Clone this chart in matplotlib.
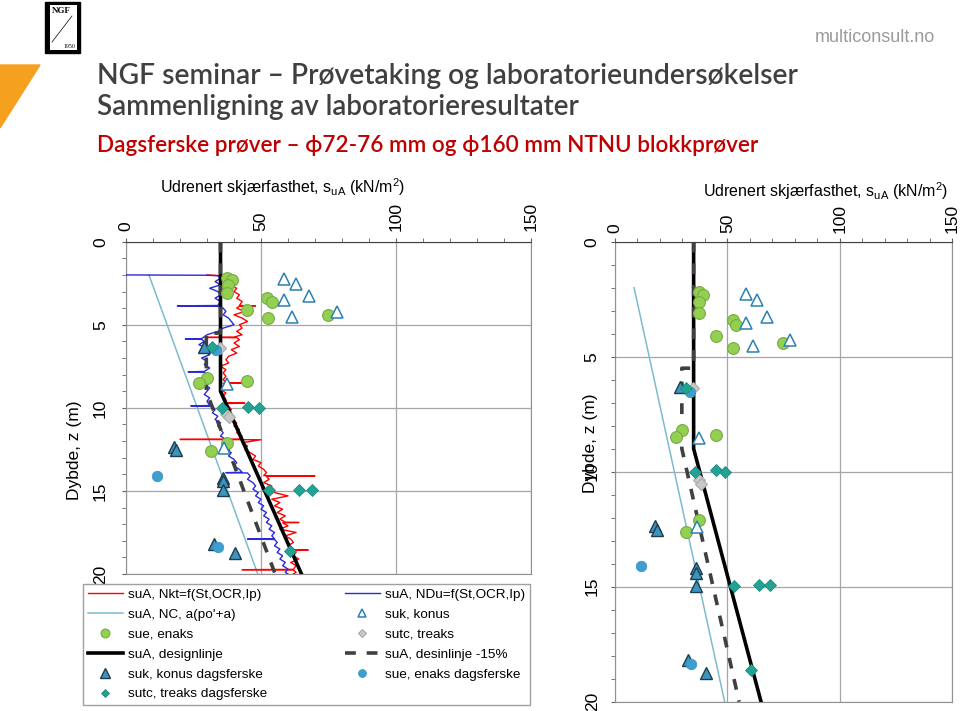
import matplotlib
matplotlib.use("Agg")
import matplotlib.pyplot as plt
from matplotlib.lines import Line2D
from matplotlib.patches import Rectangle, Polygon
from matplotlib.ticker import MultipleLocator

plt.rcParams['font.family'] = ['Liberation Sans', 'DejaVu Sans']
plt.rcParams['mathtext.fontset'] = 'custom'
plt.rcParams['mathtext.rm'] = 'Liberation Sans'

# --- DATA (depth z in m, shear strength su in kN/m2) ---
design_z = [0, 9, 20]
design_su = [35, 35, 65]
design15_z = [0, 5.5, 5.5, 9, 20]
design15_su = [35, 35, 29.75, 29.75, 55.25]
nc_z = [2.0, 20.0]
nc_su = [8.5, 48.8]

red_z = [2.0, 2.05, 2.2, 2.4, 2.6, 2.8, 3.0, 3.2, 3.4, 3.6,
         3.84, 3.86, 3.88, 4.0, 4.2, 4.4, 4.6, 4.8, 5.0, 5.2,
         5.4, 5.6, 5.74, 5.76, 5.78, 5.9, 6.1, 6.3, 6.5, 6.7,
         6.9, 7.1, 7.3, 7.5, 7.7, 7.9, 8.1, 8.3, 8.48, 8.5,
         8.52, 8.7, 8.9, 9.1, 9.3, 9.5, 9.7, 9.72, 9.74, 9.9,
         10.1, 10.3, 10.5, 10.7, 10.9, 11.1, 11.3, 11.5, 11.7, 11.88,
         11.9, 11.92, 12.1, 12.3, 12.5, 12.7, 12.9, 13.1, 13.3, 13.5,
         13.7, 13.9, 14.08, 14.1, 14.12, 14.3, 14.5, 14.7, 14.9, 15.1,
         15.3, 15.5, 15.7, 15.9, 16.1, 16.3, 16.5, 16.7, 16.88, 16.9,
         16.92, 17.1, 17.3, 17.5, 17.7, 17.9, 18.1, 18.3, 18.5, 18.54,
         18.56, 18.58, 18.7, 18.9, 19.1, 19.3, 19.5, 19.72, 19.74, 19.76,
         19.9, 20.0]
red_su = [30, 36, 37, 39, 38, 41, 40, 42, 41, 43,
          42, 48, 42, 41, 44, 40, 43, 45, 42, 43,
          41, 43, 40, 30, 41, 42, 40, 42, 39, 41,
          38, 37, 38, 35, 37, 36, 37, 36, 37, 44,
          36, 37, 35, 37, 36, 37, 37, 44, 37, 38,
          39, 38, 40, 39, 41, 40, 42, 41, 43, 42,
          20, 50, 43, 45, 44, 46, 48, 47, 50, 49,
          51, 52, 51, 70, 52, 53, 51, 54, 53, 55,
          60, 54, 57, 55, 58, 56, 59, 57, 59, 64,
          58, 60, 57, 63, 59, 61, 62, 60, 62, 61,
          67.5, 61, 63, 62, 64, 61, 63, 62, 43, 62,
          63, 62]

blue_z = [2.0, 2.02, 2.05, 2.2, 2.4, 2.6, 2.8, 3.0, 3.2, 3.4,
          3.6, 3.84, 3.86, 3.88, 4.0, 4.2, 4.4, 4.6, 4.8, 5.0,
          5.2, 5.4, 5.6, 5.84, 5.86, 5.88, 6.0, 6.2, 6.4, 6.6,
          6.8, 7.0, 7.2, 7.4, 7.6, 7.81, 7.83, 7.85, 8.0, 8.2,
          8.4, 8.6, 8.8, 9.0, 9.2, 9.4, 9.6, 9.86, 9.88, 9.9,
          10.1, 10.3, 10.5, 10.7, 10.9, 11.1, 11.3, 11.5, 11.7, 11.9,
          12.1, 12.3, 12.5, 12.7, 12.9, 13.1, 13.3, 13.5, 13.7, 13.88,
          13.9, 13.92, 14.1, 14.3, 14.5, 14.7, 14.9, 15.1, 15.3, 15.5,
          15.7, 15.9, 16.1, 16.3, 16.5, 16.7, 16.9, 17.1, 17.3, 17.5,
          17.7, 17.88, 17.9, 17.92, 18.1, 18.3, 18.5, 18.7, 18.9, 19.1,
          19.3, 19.5, 19.7, 19.9, 20.0]
blue_su = [0, 30, 34, 35, 33, 35, 31, 34, 35, 33,
           35, 34, 19, 34, 36, 37, 36, 38, 39, 40,
           36, 34, 30, 28, 22, 28, 29, 27, 30, 29,
           31, 28, 30, 29, 31, 29, 23, 29, 30, 28,
           30, 29, 31, 30, 29, 31, 30, 31, 24, 32,
           33, 32, 34, 33, 35, 34, 35, 36, 35, 37,
           36, 38, 37, 39, 38, 40, 41, 40, 42, 43,
           37, 45, 46, 45, 47, 48, 47, 49, 48, 50,
           49, 51, 50, 52, 51, 53, 52, 54, 53, 55,
           54, 55, 45, 55, 56, 55, 57, 56, 58, 57,
           59, 58, 60, 59, 60]

enaks_su = [37.3, 39.2, 37.6, 37.5, 52.4, 54.0, 44.9, 52.5, 74.8, 30.0, 27.0, 44.9, 37.5, 31.6]
enaks_z = [2.2, 2.3, 2.6, 3.1, 3.4, 3.6, 4.1, 4.6, 4.4, 8.2, 8.5, 8.4, 12.1, 12.6]
konus_su = [58.5, 63.0, 67.6, 58.5, 61.4, 78.0, 37.5, 36.4]
konus_z = [2.27, 2.54, 3.26, 3.53, 4.53, 4.26, 8.55, 12.4]
treaks_su = [34.7, 37.2, 38.2]
treaks_z = [6.37, 10.35, 10.55]
konus_d_su = [28.9, 17.8, 18.5, 36.0, 36.0, 36.0, 32.5, 40.4]
konus_d_z = [6.33, 12.35, 12.55, 14.2, 14.4, 14.97, 18.2, 18.75]
enaks_d_su = [33.2, 11.6, 34.0]
enaks_d_z = [6.52, 14.08, 18.38]
treaks_d_su = [31.8, 35.5, 45.1, 49.1, 52.8, 64.0, 69.0, 60.6]
treaks_d_z = [6.35, 10.0, 9.94, 10.0, 14.95, 14.94, 14.93, 18.63]

# --- STYLES ---
RED = '#FF0000'
BLUE = '#2A2AD8'
NC_COL = '#7DBBCF'
sty_enaks = dict(marker='o', ms=8.5, mfc='#92D050', mec='#7AA84A', mew=0.8, ls='none')
sty_konus = dict(marker='^', ms=8, mfc='white', mec='#2C80B4', mew=1.1, ls='none')
sty_treaks = dict(marker='D', ms=6, mfc='#C8C8C8', mec='#AAAAAA', mew=0.8, ls='none')
sty_konus_d = dict(marker='^', ms=9, mfc='#3C95BD', mec='#1E3C4E', mew=1.0, ls='none')
sty_enaks_d = dict(marker='o', ms=7.5, mfc='#3E9ECF', mec='#3A96C6', mew=0.6, ls='none')
sty_treaks_d = dict(marker='D', ms=6, mfc='#22A294', mec='#1C8C80', mew=0.6, ls='none')

W, H = 960, 711


def fx(px):
    return px / W


def fy(py):
    return 1 - py / H


fig = plt.figure(figsize=(9.6, 7.11), dpi=100)


def setup_axes(ax, ypad, xpad):
    ax.set_xlim(0, 150)
    ax.set_ylim(20, 0)
    ax.xaxis.tick_top()
    ax.xaxis.set_major_locator(MultipleLocator(50))
    ax.xaxis.set_minor_locator(MultipleLocator(10))
    ax.yaxis.set_major_locator(MultipleLocator(5))
    ax.yaxis.set_minor_locator(MultipleLocator(1))
    ax.grid(True, which='major', color='#A6A6A6', lw=0.9)
    ax.set_axisbelow(True)
    for s in ['right', 'bottom', 'left']:
        ax.spines[s].set_color('#909090')
    ax.spines['top'].set_color('#404040')
    ax.tick_params(which='both', direction='out', length=3, color='#606060', labelsize=12.5)
    ax.tick_params(axis='y', pad=ypad)
    ax.tick_params(axis='x', pad=xpad)
    for lab in ax.get_xticklabels():
        lab.set_rotation(90)
        lab.set_va('bottom')
        lab.set_ha('center')
    for lab in ax.get_yticklabels():
        lab.set_rotation(90)
        lab.set_va('center')
        lab.set_ha('right')


def draw_common(ax):
    ax.plot(nc_su, nc_z, color=NC_COL, lw=1.1, zorder=3)
    ax.plot(design_su, design_z, color='black', lw=2.6, zorder=5)
    ax.plot(design15_su, design15_z, color='#404040', lw=2.6, dashes=(3, 3), zorder=5)
    ax.plot(enaks_su, enaks_z, zorder=6, **sty_enaks)
    ax.plot(konus_su, konus_z, zorder=6, **sty_konus)
    ax.plot(treaks_su, treaks_z, zorder=6, **sty_treaks)
    ax.plot(konus_d_su, konus_d_z, zorder=6, **sty_konus_d)
    ax.plot(enaks_d_su, enaks_d_z, zorder=6, **sty_enaks_d)
    ax.plot(treaks_d_su, treaks_d_z, zorder=6, **sty_treaks_d)


# left panel: CPTU profiles + lab results
ax1 = fig.add_axes([fx(126), fy(574), fx(531) - fx(126), fy(241.7) - fy(574)])
ax1.plot(red_su, red_z, color=RED, lw=1.0, zorder=4)
ax1.plot(blue_su, blue_z, color=BLUE, lw=1.0, zorder=4)
draw_common(ax1)
setup_axes(ax1, ypad=10, xpad=5)

# right panel: lab results only
ax2 = fig.add_axes([fx(615), fy(701.7), fx(952) - fx(615), fy(241.7) - fy(701.7)])
draw_common(ax2)
setup_axes(ax2, ypad=8, xpad=3)

xlabel = r'Udrenert skjærfasthet, s$_{\mathrm{uA}}$ (kN/m$^{\mathrm{2}}$)'
fig.text(fx(283), fy(187), xlabel, ha='center', va='center', fontsize=11.5)
fig.text(fx(826), fy(191), xlabel, ha='center', va='center', fontsize=11.5)
fig.text(fx(75), fy(450), 'Dybde, z (m)', rotation=90, ha='center', va='center', fontsize=12.5)
fig.text(fx(590), fy(443), 'Dybde, z (m)', rotation=90, ha='center', va='center', fontsize=12.5)

# legend
handles = [
    Line2D([], [], color=RED, lw=1.0),
    Line2D([], [], color=NC_COL, lw=1.1),
    Line2D([], [], **sty_enaks),
    Line2D([], [], color='black', lw=2.6),
    Line2D([], [], **sty_konus_d),
    Line2D([], [], **sty_treaks_d),
    Line2D([], [], color=BLUE, lw=1.0),
    Line2D([], [], **sty_konus),
    Line2D([], [], **sty_treaks),
    Line2D([], [], color='#404040', lw=2.6, dashes=(3, 3)),
    Line2D([], [], **sty_enaks_d),
]
labels = ['suA, Nkt=f(St,OCR,Ip)', 'suA, NC, a(po\'+a)', 'sue, enaks', 'suA, designlinje',
          'suk, konus dagsferske', 'sutc, treaks dagsferske',
          'suA, NDu=f(St,OCR,Ip)', 'suk, konus', 'sutc, treaks', 'suA, desinlinje -15%',
          'sue, enaks dagsferske']
leg = fig.legend(handles, labels, ncol=2, loc='upper left',
                 bbox_to_anchor=(fx(83), fy(703), fx(530) - fx(83), fy(584) - fy(703)),
                 mode='expand', fontsize=9.7, handlelength=2.6, handletextpad=0.4,
                 labelspacing=0.55, borderpad=0.35, borderaxespad=0, fancybox=False,
                 framealpha=1, edgecolor='#A0A0A0', markerscale=0.75)
leg.get_frame().set_linewidth(1.0)

# --- header ---
fig.patches.append(Polygon([(fx(0), fy(65)), (fx(40), fy(65)), (fx(0), fy(128))],
                           closed=True, color='#F5A01E', transform=fig.transFigure))
fig.patches.append(Rectangle((fx(45), fy(53)), fx(80) - fx(45), fy(2) - fy(53),
                             color='black', transform=fig.transFigure))
fig.patches.append(Rectangle((fx(50), fy(50)), fx(77) - fx(50), fy(5) - fy(50),
                             facecolor='white', edgecolor='none', transform=fig.transFigure))
fig.lines.append(Line2D([fx(72), fx(52)], [fy(16), fy(42)], color='black', lw=0.5,
                        transform=fig.transFigure))
fig.text(fx(61), fy(11), 'NGF', ha='center', va='center', fontsize=6.5,
         family='Liberation Serif', fontweight='bold')
fig.text(fx(69), fy(46), '1950', ha='center', va='center', fontsize=4.2,
         family='Liberation Serif')

fig.text(fx(935), fy(38), 'multiconsult.no', ha='right', va='center', fontsize=13, color='#9B9B9B')
fig.text(fx(97), fy(76), 'NGF seminar – Prøvetaking og laboratorieundersøkelser',
         ha='left', va='center', fontsize=20.3, color='#404040',
         family=['Lato', 'DejaVu Sans'], fontweight='semibold')
fig.text(fx(97), fy(107), 'Sammenligning av laboratorieresultater',
         ha='left', va='center', fontsize=20, color='#404040',
         family=['Lato', 'DejaVu Sans'], fontweight='semibold')
fig.text(fx(97), fy(145), 'Dagsferske prøver – ϕ72-76 mm og ϕ160 mm NTNU blokkprøver',
         ha='left', va='center', fontsize=16.2, color='#C00000',
         family=['Lato', 'DejaVu Sans'], fontweight='semibold')

fig.savefig('out.png', dpi=100)
